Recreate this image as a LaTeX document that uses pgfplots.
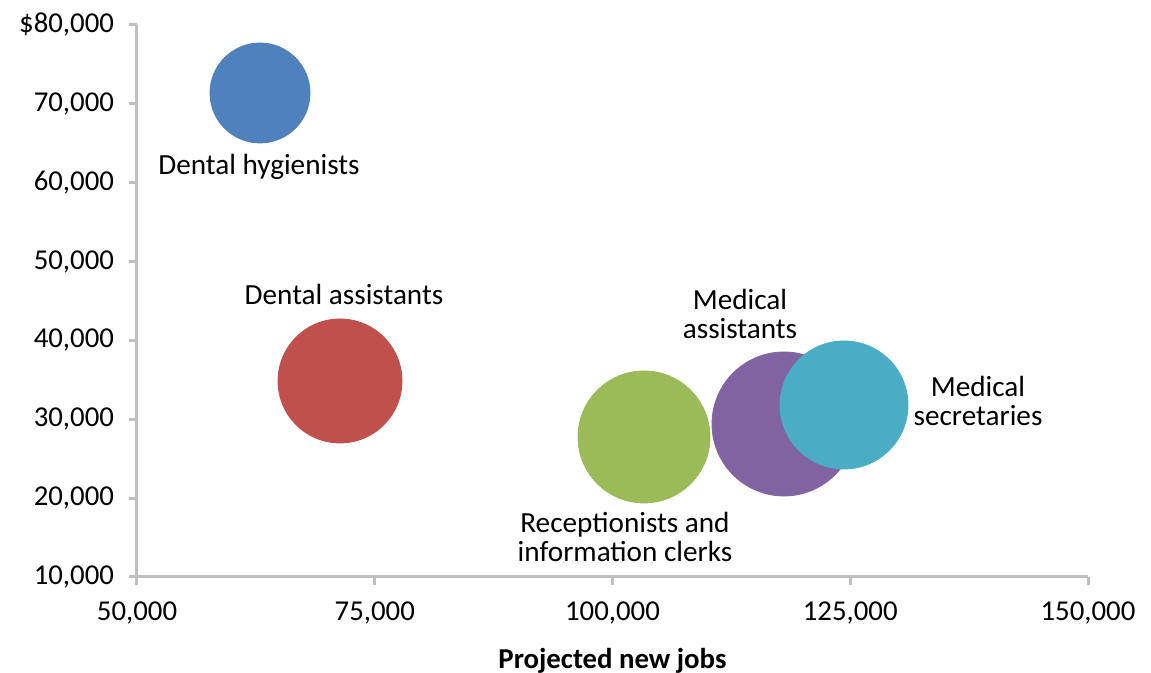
\documentclass[border=0pt]{standalone}
\usepackage{pgfplots}
\pgfplotsset{compat=1.18}
\usepackage{fontspec}
\setmainfont{Carlito}

\definecolor{cblue}{HTML}{4F81BD}
\definecolor{cred}{HTML}{C0504D}
\definecolor{cgreen}{HTML}{9BBB59}
\definecolor{cpurple}{HTML}{8064A2}
\definecolor{ccyan}{HTML}{4BACC6}
\definecolor{axgray}{HTML}{BFBFBF}

\begin{document}
\begin{tikzpicture}
\begin{axis}[
  scale only axis,
  width=475.5pt, height=276pt,
  xmin=50000, xmax=150000,
  ymin=10000, ymax=80000,
  scaled ticks=false,
  axis lines*=left,
  axis line style={axgray, line width=1.5pt, -},
  tick style={axgray, line width=1.5pt},
  tick align=outside,
  major tick length=4pt,
  xtick={50000,75000,100000,125000,150000},
  xticklabels={50{,}000,75{,}000,100{,}000,125{,}000,150{,}000},
  ytick={10000,20000,30000,40000,50000,60000,70000,80000},
  yticklabels={10{,}000,20{,}000,30{,}000,40{,}000,50{,}000,60{,}000,70{,}000,\$80{,}000},
  tick label style={font=\fontsize{14.4}{16}\selectfont, black},
  xticklabel style={yshift=-5pt},
  yticklabel style={xshift=-4pt},
  xlabel={\textbf{Projected new jobs}},
  xlabel style={font=\fontsize{14.4}{16}\selectfont, yshift=-5pt},
  clip=false,
]
% x = projected new jobs, y = median wage, bubble radius in pt
\addplot[only marks, mark=*, mark size=25pt, color=cblue]    coordinates {(62934,71377)};
\addplot[only marks, mark=*, mark size=31pt, color=cred]     coordinates {(71346,34857)};
\addplot[only marks, mark=*, mark size=33pt, color=cgreen]   coordinates {(103312,27755)};
\addplot[only marks, mark=*, mark size=36pt, color=cpurple]  coordinates {(118034,29404)};
\addplot[only marks, mark=*, mark size=32pt, color=ccyan]    coordinates {(124343,31813)};

\begin{scope}[every node/.style={font=\fontsize{14.6}{14.6}\selectfont, align=center}]
\node at (axis cs:62829,61993) {Dental hygienists};
\node at (axis cs:71766,45889) {Dental assistants};
\node at (axis cs:113407,43353) {Medical\\assistants};
\node at (axis cs:138433,32320) {Medical\\secretaries};
\node at (axis cs:101314,15074) {Receptionists and\\information clerks};
\end{scope}

\coordinate (sw) at (rel axis cs:0,0);
\coordinate (ne) at (rel axis cs:1,1);
\end{axis}
\pgfresetboundingbox
\path[use as bounding box] ([xshift=-68.5pt,yshift=-48pt]sw) rectangle ([xshift=31.5pt,yshift=12.5pt]ne);
\end{tikzpicture}
\end{document}
